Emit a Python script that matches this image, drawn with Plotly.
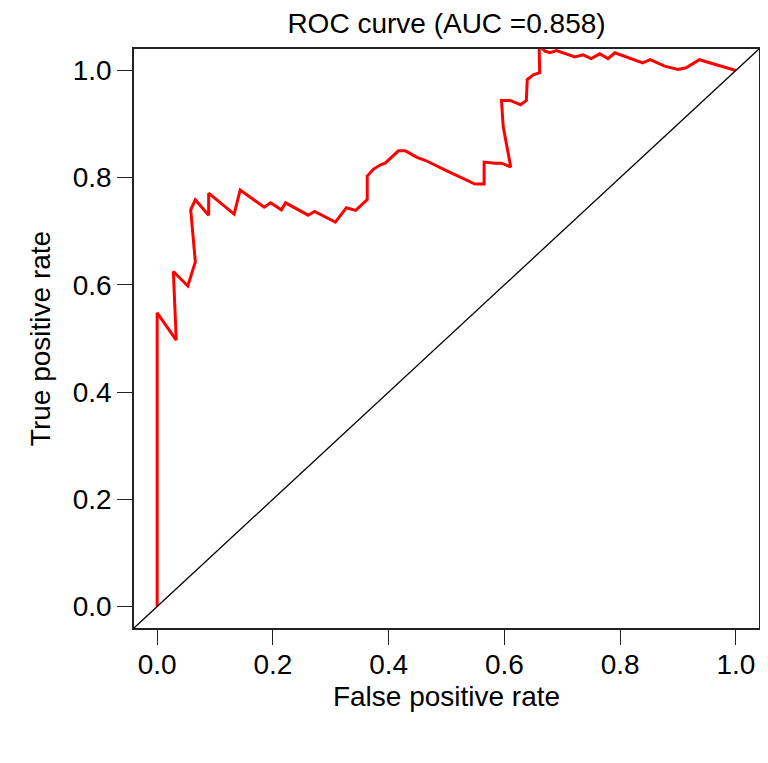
import plotly.graph_objects as go

# ROC curve points
fpr = [0.0, 0.0, 0.033, 0.028, 0.053, 0.066, 0.058, 0.066, 0.089, 0.089,
       0.133, 0.1435, 0.185, 0.196, 0.2146, 0.222, 0.261, 0.272, 0.308, 0.327,
       0.343, 0.363, 0.363, 0.374, 0.386, 0.394, 0.417, 0.429, 0.449, 0.464,
       0.498, 0.549, 0.565, 0.565, 0.584, 0.595, 0.611, 0.598, 0.595, 0.610,
       0.628, 0.638, 0.6395, 0.650, 0.661, 0.660, 0.670, 0.679, 0.690, 0.722,
       0.736, 0.750, 0.765, 0.779, 0.791, 0.839, 0.852, 0.877, 0.900, 0.914,
       0.937, 1.0]
tpr = [0.0, 0.548, 0.497, 0.625, 0.598, 0.643, 0.740, 0.759, 0.730, 0.771,
       0.732, 0.777, 0.745, 0.753, 0.740, 0.753, 0.730, 0.737, 0.717, 0.744,
       0.739, 0.759, 0.803, 0.816, 0.824, 0.827, 0.850, 0.850, 0.838, 0.832,
       0.814, 0.788, 0.788, 0.829, 0.827, 0.827, 0.820, 0.895, 0.944, 0.944,
       0.936, 0.944, 0.983, 0.992, 0.996, 1.048, 1.036, 1.033, 1.037, 1.025,
       1.029, 1.022, 1.031, 1.022, 1.033, 1.014, 1.020, 1.008, 1.002, 1.005,
       1.020, 1.0]
auc = 0.858
ticks = [0.0, 0.2, 0.4, 0.6, 0.8, 1.0]
tick_text = ["0.0", "0.2", "0.4", "0.6", "0.8", "1.0"]

font = "Liberation Sans, Arial, Helvetica, sans-serif"
fsize = 28

# page body has an 8px margin, so the figure is a bit smaller than the window
W, H = 752, 747

fig = go.Figure()
fig.add_trace(go.Scatter(x=fpr, y=tpr, mode="lines",
                         line=dict(color="#ff0000", width=3), showlegend=False))

# chance line y = x across the whole plot region
fig.add_shape(type="line", xref="paper", yref="paper", x0=0, y0=0, x1=1, y1=1,
              line=dict(color="black", width=1.3))

axis_style = dict(range=[-0.04, 1.04], tickvals=ticks, ticktext=tick_text,
                  showgrid=False, zeroline=False, showline=True, mirror=True,
                  linecolor="#222222", linewidth=1.5, ticks="outside",
                  ticklen=15, tickwidth=1.3, tickcolor="#222222", automargin=False,
                  tickfont=dict(size=fsize, color="black", family=font))

fig.update_xaxes(**axis_style, ticklabelstandoff=-4,
                 title=dict(text="False positive rate", standoff=7,
                            font=dict(size=fsize, color="black", family=font)))
fig.update_yaxes(**axis_style, ticklabelstandoff=0,
                 title=dict(text="True positive rate", standoff=14,
                            font=dict(size=fsize, color="black", family=font)))

fig.update_layout(
    width=W, height=H,
    margin=dict(l=126, r=1, t=41, b=127),
    plot_bgcolor="white", paper_bgcolor="white",
    title=dict(text=f"ROC curve (AUC ={auc})", x=0.5, xref="paper",
               y=1 - 15 / H, yanchor="middle",
               font=dict(size=fsize, color="black", family=font)),
)

fig.write_html("out.html")
